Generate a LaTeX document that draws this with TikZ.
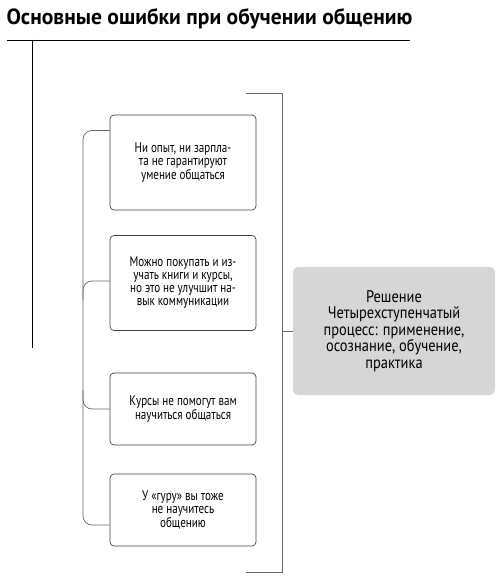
\documentclass[tikz,border=0pt]{standalone}
\usepackage{fontspec}
\setmainfont{PT Sans}
\newfontfamily\boxfont[FakeStretch=0.79]{PT Sans}
\newfontfamily\solfont[FakeStretch=0.86]{PT Sans}
\newfontfamily\titlefont[FakeStretch=0.98]{PT Sans Bold}
\usetikzlibrary{positioning}
\tikzset{
    errbox/.style={draw=black!75,line width=0.7pt,rounded corners=4pt,minimum width=146pt,
        align=center,font=\boxfont\fontsize{14}{13}\selectfont},
    solbox/.style={fill=black!16,rounded corners=5pt,minimum width=202pt,minimum height=128pt,
        align=center,font=\solfont\fontsize{16.8}{16.6}\selectfont},
    link/.style={draw=black!60,line width=0.7pt}
}
\begin{document}
\begin{tikzpicture}[x=1pt,y=-1pt]
        \useasboundingbox (0,0) rectangle (500,577);
        %% Title
        \node[anchor=west,font=\titlefont\fontsize{22}{24}\selectfont] (title) at (3,19) {Основные ошибки при обучении общению};
        \coordinate (hl) at (7,40);
        \coordinate (hr) at (410,40);
        \draw[line width=0.9pt] (hl) -- (hr);
        \coordinate (vt) at (32,40);
        \coordinate (vb) at (32,348);
        \draw[line width=0.8pt] (vt) -- (vb);
        %% Mistakes
        \node[errbox,minimum height=95pt] (b1) at (183,162.5) {Ни опыт, ни зарпла-\\та не гарантируют\\умение общаться};
        \node[errbox,minimum height=95pt] (b2) at (183,283) {Можно покупать и из-\\учать книги и курсы,\\но это не улучшит на-\\вык коммуникации};
        \node[errbox,minimum height=72pt] (b3) at (183,409) {Курсы не помогут вам\\научиться общаться};
        \node[errbox,minimum height=72pt] (b4) at (183,510) {У «гуру» вы тоже\\не научитесь\\общению};
        %% Left bracket
        \coordinate (lb2) at (83,300);
        \coordinate (lb3) at (83,390);
        \draw[link,rounded corners=9pt] ([yshift=32pt]b1.west) -| (83,525) -- ([yshift=-15pt]b4.west);
        \draw[link,rounded corners=9pt] ([yshift=2pt]b2.west) -| (lb2);
        \draw[link,rounded corners=9pt] (lb3) |- (b3.west);
        %% Solution
        \node[solbox] (sol) at (394,331) {Решение\\Четырехступенчатый\\процесс: применение,\\осознание, обучение,\\практика};
        \coordinate (rt) at (246,93);
        \coordinate (rb) at (246,572);
        \draw[link] (rt) -| (282,572) -- (rb);
        \draw[link] (282,331) -- (sol.west);
\end{tikzpicture}
\end{document}
